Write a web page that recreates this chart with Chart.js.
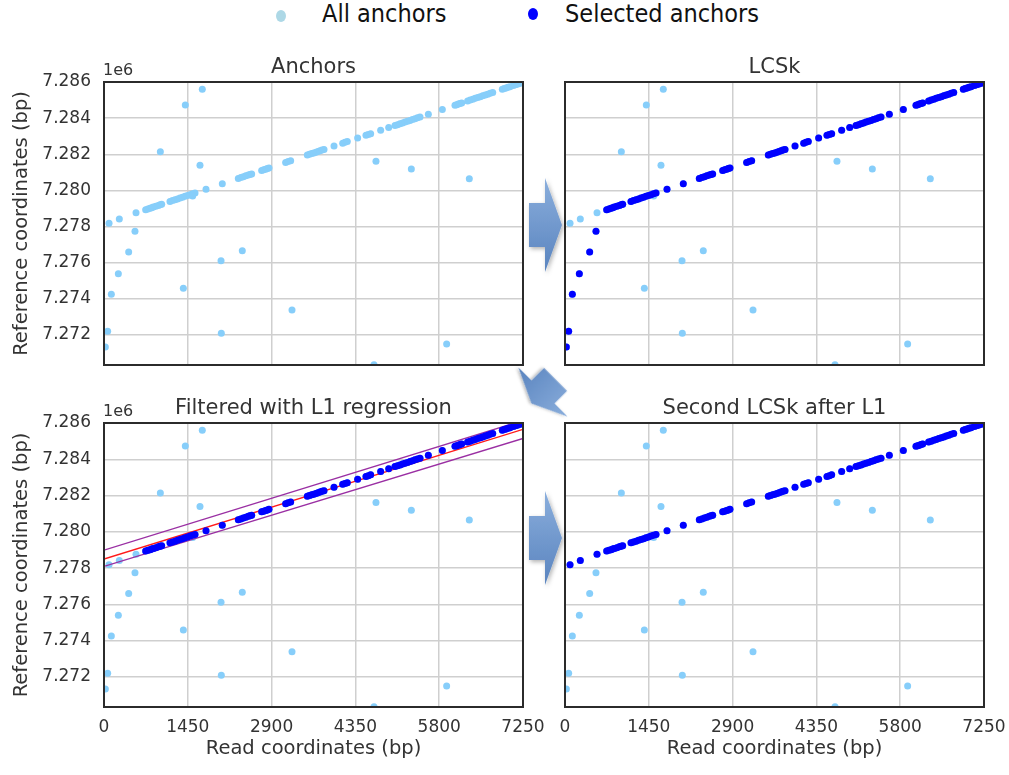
<!DOCTYPE html>
<html>
<head>
<meta charset="utf-8">
<script src="https://cdn.jsdelivr.net/npm/chart.js@4.4.0/dist/chart.umd.min.js"></script>
<style>
  body { margin: 0; background: #fff; width: 1009px; height: 775px; position: relative; overflow: hidden; font-family: 'DejaVu Sans', sans-serif; }
  .panel { position: absolute; }
  .leg { position: absolute; font-family: 'DejaVu Sans Condensed', 'Liberation Sans Narrow', sans-serif; font-size: 25px; color: #111; line-height: 28px; }
  .dot { position: absolute; width: 10px; height: 12px; border-radius: 50%; }
  #arrows { position: absolute; left: 0; top: 0; pointer-events: none; }
</style>
</head>
<body>
<span class="dot" style="left:276px;top:10px;background:#add8e6"></span>
<span class="leg" style="left:322px;top:0px">All anchors</span>
<span class="dot" style="left:528px;top:8px;background:#0000ff"></span>
<span class="leg" style="left:565px;top:0px">Selected anchors</span>

<div class="panel" style="left:0;top:40px"><canvas id="anchors" width="530" height="330"></canvas></div>
<div class="panel" style="left:560px;top:40px"><canvas id="lcsk" width="431" height="330"></canvas></div>
<div class="panel" style="left:0;top:395px"><canvas id="filtered" width="550" height="380"></canvas></div>
<div class="panel" style="left:560px;top:395px"><canvas id="second" width="449" height="380"></canvas></div>

<svg id="arrows" width="1009" height="775">
  <defs>
    <linearGradient id="ag" x1="0" y1="0" x2="0" y2="1">
      <stop offset="0" stop-color="#8aaedc"/>
      <stop offset="1" stop-color="#5a84bf"/>
    </linearGradient>
    <filter id="sh" x="-40%" y="-40%" width="180%" height="180%">
      <feDropShadow dx="1.5" dy="2" stdDeviation="2" flood-color="#000" flood-opacity="0.3"/>
    </filter>
    <path id="arr" d="M-16,-22 L0,-22 L0,-47 L17,0 L0,47 L0,22 L-16,22 Z"/>
    <path id="arrd" d="M-24,-22 L0,-22 L0,-47 L22,0 L0,47 L0,22 L-24,22 Z"/>
  </defs>
  <use href="#arr" transform="translate(545,225)" fill="url(#ag)" filter="url(#sh)"/>
  <use href="#arrd" transform="translate(543,392) rotate(135) scale(0.74)" fill="url(#ag)" filter="url(#sh)"/>
  <use href="#arr" transform="translate(545,538)" fill="url(#ag)" filter="url(#sh)"/>
</svg>

<script>
// read coordinates (bp) / reference coordinates (bp)
const xTicks = [0, 1450, 2900, 4350, 5800, 7250];
const yTicks = [7272000, 7274000, 7276000, 7278000, 7280000, 7282000, 7284000, 7286000];

// main diagonal run of anchors (dense runs show up as dashes)
const lineX = [721, 760, 796, 825, 853, 897, 940, 970, 998,
  1142, 1185, 1229, 1272, 1315, 1358, 1402, 1445, 1488, 1531, 1575,
  1765, 2047,
  2324, 2367, 2411, 2454, 2497, 2526, 2555,
  2728, 2762, 2797, 2826, 2855,
  3143, 3186, 3230,
  3518, 3555, 3593, 3630, 3668, 3702, 3737, 3772, 3807,
  3980,
  4130, 4170, 4210,
  4389,
  4533, 4573, 4614,
  4787, 4926,
  5035, 5078, 5122, 5165, 5208, 5251, 5295, 5338, 5381, 5424, 5468,
  5612, 5854,
  6073, 6102, 6131, 6160, 6189,
  6292, 6336, 6380, 6423, 6466, 6510, 6553, 6596, 6639, 6682, 6726,
  6892, 6924, 6956, 6990, 7025,
  7082, 7117, 7152, 7190, 7227];
const lineY = [7278936, 7278978, 7279017, 7279048, 7279078, 7279126, 7279172, 7279205, 7279235,
  7279390, 7279437, 7279484, 7279531, 7279577, 7279624, 7279671, 7279718, 7279764, 7279810, 7279858,
  7280063, 7280368,
  7280667, 7280713, 7280761, 7280807, 7280854, 7280885, 7280916,
  7281103, 7281140, 7281178, 7281209, 7281240,
  7281551, 7281598, 7281645,
  7281956, 7281996, 7282037, 7282077, 7282118, 7282155, 7282193, 7282231, 7282268,
  7282455,
  7282617, 7282661, 7282704,
  7282897,
  7283053, 7283096, 7283140,
  7283327, 7283477,
  7283595, 7283641, 7283689, 7283735, 7283782, 7283828, 7283876, 7283922, 7283968, 7284015, 7284062,
  7284218, 7284479,
  7284716, 7284747, 7284778, 7284810, 7284841,
  7284952, 7285000, 7285047, 7285094, 7285140, 7285188, 7285234, 7285281, 7285327, 7285374, 7285421,
  7285600, 7285635, 7285669, 7285706, 7285744,
  7285806, 7285843, 7285881, 7285922, 7285962];

// anchors near the start of the diagonal
const earlyX = [87, 265, 554];
const earlyY = [7278180, 7278418, 7278767];

// steep chain picked by the first LCSk
const chainX = [23, 63, 127, 248, 427, 536];
const chainY = [7271335, 7272203, 7274251, 7275393, 7276592, 7277737];

// scattered anchors
const noiseX = [1701, 1407, 975, 1661, 4706, 5318, 6321, 1534, 1373, 2025, 2393, 3253, 2030, 5929, 4672];
const noiseY = [7285594, 7284727, 7282145, 7281389, 7281610, 7281185, 7280650, 7279691, 7274583, 7276112,
  7276666, 7273383, 7272092, 7271501, 7270357];

// L1 regression line and band
const l1X = [0, 7250];
const l1Y = [7278500, 7285650];
const upperY = [7278990, 7286140];
const lowerY = [7278090, 7285150];

const LIGHT = '#87cefa';
const BLUE = '#0000ff';

const pts = (xs, ys) => xs.map((x, i) => ({ x: x, y: ys[i] }));
const allAnchors = [].concat(pts(lineX, lineY), pts(earlyX, earlyY), pts(chainX, chainY), pts(noiseX, noiseY));

const lightSet = { data: allAnchors, backgroundColor: LIGHT, pointRadius: 3.5, borderWidth: 0, order: 5 };
const blueSet = (data) => ({ data: data, backgroundColor: BLUE, pointRadius: 3.5, borderWidth: 0, order: 1 });
const lineSet = (ys, color) => ({ data: pts(l1X, ys), showLine: true, borderColor: color, borderWidth: 1.4, pointRadius: 0, order: 2 });

const frame = {
  id: 'frame',
  afterDatasetsDraw(chart) {
    const { ctx, chartArea: a } = chart;
    ctx.save();
    ctx.strokeStyle = '#2b2b2b';
    ctx.lineWidth = 2;
    ctx.strokeRect(a.left, a.top, a.right - a.left, a.bottom - a.top);
    ctx.restore();
  }
};

const offsetText = {
  id: 'offsetText',
  afterDraw(chart) {
    const { ctx, chartArea: a } = chart;
    ctx.save();
    ctx.font = '16px "DejaVu Sans"';
    ctx.fillStyle = '#333';
    ctx.textBaseline = 'alphabetic';
    ctx.fillText('1e6', a.left - 1, a.top - 7);
    ctx.restore();
  }
};

const noPad = s => { s.paddingLeft = 0; s.paddingRight = 0; s.paddingTop = 0; s.paddingBottom = 0; };

function makePanel(id, title, datasets, left, bottom) {
  const plugins = [frame];
  if (left) plugins.push(offsetText);
  const canvas = document.getElementById(id);
  // plot right edge sits at 523 (left column) or 984 (right column)
  const rightPad = canvas.width - (left ? 523 : 424);
  new Chart(canvas, {
    type: 'scatter',
    data: { datasets: datasets },
    options: {
      responsive: false,
      animation: false,
      layout: { padding: { left: left ? 0 : 5, right: rightPad, top: 0, bottom: bottom ? 0 : 5 } },
      plugins: {
        legend: { display: false },
        tooltip: { enabled: false },
        title: {
          display: true,
          text: title,
          fullSize: false,
          color: '#333',
          font: { family: 'DejaVu Sans', size: 21, weight: 'normal' },
          padding: bottom ? { top: 1.4, bottom: 1.4 } : { top: 15, bottom: 1.8 }
        }
      },
      scales: {
        x: {
          type: 'linear',
          min: 0,
          max: 7250,
          afterBuildTicks: s => { s.ticks = xTicks.map(v => ({ value: v })); },
          afterFit: s => { s.height = bottom ? 68 : 0; noPad(s); },
          grid: { color: '#cfcfcf', lineWidth: 1.5, drawTicks: false },
          border: { display: false },
          ticks: {
            display: bottom,
            color: '#333',
            padding: 10,
            maxRotation: 0,
            font: { family: 'DejaVu Sans', size: 17 },
            callback: v => String(v)
          },
          title: {
            display: bottom,
            text: 'Read coordinates (bp)',
            color: '#333',
            font: { family: 'DejaVu Sans', size: 19.5 },
            padding: { top: 0, bottom: 14.3 }
          }
        },
        y: {
          type: 'linear',
          min: 7270340,
          max: 7286000,
          afterBuildTicks: s => { s.ticks = yTicks.map(v => ({ value: v })); },
          afterFit: s => { s.width = left ? 104 : 0; noPad(s); },
          grid: { color: '#cfcfcf', lineWidth: 1.5, drawTicks: false },
          border: { display: false },
          ticks: {
            display: left,
            color: '#333',
            padding: 13,
            font: { family: 'DejaVu Sans', size: 17 },
            callback: v => (v / 1e6).toFixed(3)
          },
          title: {
            display: left,
            text: 'Reference coordinates (bp)',
            color: '#333',
            font: { family: 'DejaVu Sans', size: 19.5 },
            padding: { top: 10.3, bottom: 0 }
          }
        }
      }
    },
    plugins: plugins
  });
}

makePanel('anchors', 'Anchors', [lightSet], true, false);
makePanel('lcsk', 'LCSk', [lightSet, blueSet(pts(chainX, chainY).concat(pts(lineX, lineY)))], false, false);
makePanel('filtered', 'Filtered with L1 regression', [
  lightSet,
  lineSet(upperY, '#9a2fa3'),
  lineSet(lowerY, '#9a2fa3'),
  lineSet(l1Y, '#ff1a1a'),
  blueSet(pts(lineX, lineY))
], true, true);
makePanel('second', 'Second LCSk after L1', [lightSet, blueSet(pts(earlyX, earlyY).concat(pts(lineX, lineY)))], false, true);
</script>
</body>
</html>
